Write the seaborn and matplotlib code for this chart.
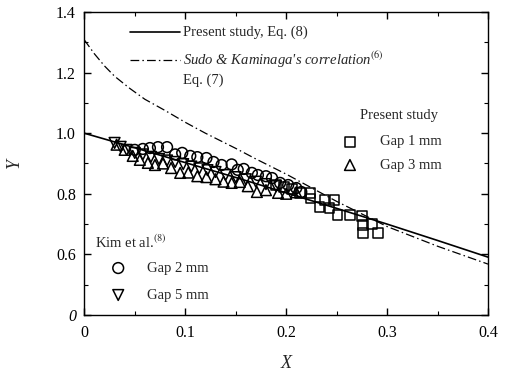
import numpy as np
import pandas as pd
import matplotlib
matplotlib.use("Agg")
import matplotlib.pyplot as plt
from matplotlib.ticker import MultipleLocator, FixedLocator, FixedFormatter
import seaborn as sns

# ---- data ----
eq8_x = [0.0, 0.05, 0.10, 0.15, 0.20, 0.25, 0.30, 0.35, 0.40]
eq8_y = [1.000, 0.952, 0.903, 0.854, 0.803, 0.752, 0.700, 0.646, 0.591]

sudo_x = [0.0, 0.01, 0.02, 0.03, 0.045, 0.06, 0.08, 0.10, 0.12, 0.15, 0.17, 0.20,
          0.25, 0.30, 0.35, 0.40]
sudo_y = [1.308, 1.262, 1.222, 1.188, 1.148, 1.112, 1.075, 1.036, 1.000, 0.950, 0.915, 0.865,
          0.775, 0.692, 0.627, 0.568]

gap1_x = [0.190, 0.198, 0.206, 0.214, 0.224, 0.224, 0.238, 0.248, 0.233, 0.243,
          0.251, 0.263, 0.275, 0.276, 0.285, 0.276, 0.291]
gap1_y = [0.830, 0.822, 0.815, 0.802, 0.802, 0.785, 0.780, 0.780, 0.756, 0.753,
          0.730, 0.730, 0.726, 0.697, 0.700, 0.671, 0.671]

gap3_x = [0.032, 0.040, 0.048, 0.055, 0.063, 0.070, 0.078, 0.086, 0.095, 0.103, 0.112,
          0.121, 0.130, 0.138, 0.146, 0.154, 0.162, 0.171, 0.180, 0.192, 0.200, 0.210]
gap3_y = [0.962, 0.945, 0.925, 0.912, 0.902, 0.895, 0.900, 0.885, 0.869, 0.870, 0.858,
          0.855, 0.848, 0.840, 0.836, 0.839, 0.825, 0.806, 0.812, 0.803, 0.800, 0.805]

gap2_x = [0.050, 0.058, 0.065, 0.073, 0.082, 0.090, 0.097, 0.105, 0.112, 0.121, 0.128, 0.136,
          0.146, 0.152, 0.158, 0.166, 0.172, 0.180, 0.186, 0.194, 0.202, 0.210, 0.215]
gap2_y = [0.945, 0.948, 0.951, 0.954, 0.954, 0.930, 0.935, 0.925, 0.921, 0.918, 0.905, 0.895,
          0.897, 0.879, 0.882, 0.869, 0.862, 0.858, 0.852, 0.836, 0.829, 0.819, 0.806]

gap5_x = [0.030, 0.036, 0.042, 0.050, 0.058, 0.066, 0.074, 0.082, 0.090, 0.098,
          0.106, 0.114, 0.122, 0.130, 0.140, 0.150, 0.160, 0.170, 0.180, 0.190]
gap5_y = [0.968, 0.955, 0.945, 0.935, 0.930, 0.922, 0.915, 0.910, 0.905, 0.898,
          0.890, 0.884, 0.878, 0.872, 0.862, 0.855, 0.848, 0.840, 0.832, 0.825]

y_ticks = [0.4, 0.6, 0.8, 1.0, 1.2, 1.4]
y_tick_labels = ["0", "0.6", "0.8", "1.0", "1.2", "1.4"]
x_ticks = [0.0, 0.1, 0.2, 0.3, 0.4]
x_tick_labels = ["0", "0.1", "0.2", "0.3", "0.4"]

# ---- style ----
sns.set_theme(style="ticks")
plt.rcParams["font.family"] = ["Liberation Serif", "DejaVu Serif"]
plt.rcParams["mathtext.fontset"] = "stix"
plt.rcParams["axes.linewidth"] = 1.0

fig = plt.figure(figsize=(5.06, 3.76), dpi=100)
ax = fig.add_axes([84.3 / 506, 1 - 315 / 376, 403.7 / 506, 303 / 376])

dashdot = (0, (7, 2.5, 1.2, 2.5))
sns.lineplot(x=eq8_x, y=eq8_y, ax=ax, color="black", lw=1.2, sort=False, estimator=None)
sns.lineplot(x=sudo_x, y=sudo_y, ax=ax, color="black", lw=0.9, sort=False, estimator=None,
             linestyle=dashdot)

mk = dict(ax=ax, facecolor="none", edgecolor="black", linewidth=1.1, legend=False)
sns.scatterplot(x=gap2_x, y=gap2_y, marker="o", s=60, **mk)
sns.scatterplot(x=gap5_x, y=gap5_y, marker="v", s=60, **mk)
sns.scatterplot(x=gap3_x, y=gap3_y, marker="^", s=60, **mk)
sns.scatterplot(x=gap1_x, y=gap1_y, marker="s", s=48, **mk)

ax.set_xlim(0, 0.4)
ax.set_ylim(0.4, 1.4)
ax.xaxis.set_major_locator(FixedLocator(x_ticks))
ax.xaxis.set_major_formatter(FixedFormatter(x_tick_labels))
ax.xaxis.set_minor_locator(MultipleLocator(0.05))
ax.yaxis.set_major_locator(FixedLocator(y_ticks))
ax.yaxis.set_major_formatter(FixedFormatter(y_tick_labels))
ax.yaxis.set_minor_locator(MultipleLocator(0.1))
ax.tick_params(which="both", direction="in", top=True, right=True, color="black",
               labelsize=11.5, labelcolor="black")
ax.tick_params(which="major", length=5, width=1.0)
ax.tick_params(which="minor", length=3, width=0.8)
ax.tick_params(axis="x", pad=7)
ax.tick_params(axis="y", pad=6)
ax.get_yticklabels()[0].set_fontstyle("italic")
for s in ax.spines.values():
    s.set_color("black")

ax.set_xlabel("X", fontsize=13, fontstyle="italic", labelpad=10)
ax.set_ylabel("Y", fontsize=13, fontstyle="italic", labelpad=24)
ax.set_facecolor("white")

# ---- legends as text ----
tx = ax.transAxes
fs = 10.5
ax.plot([0.113, 0.237], [0.934, 0.934], transform=tx, color="black", lw=1.2)
ax.text(0.245, 0.934, "Present study, Eq. (8)", transform=tx, fontsize=fs, va="center")
ax.plot([0.113, 0.237], [0.842, 0.842], transform=tx, color="black", lw=0.9,
        linestyle=dashdot)
ax.text(0.245, 0.842, "Sudo & Kaminaga's correlation$^{(6)}$", transform=tx, fontsize=fs,
        va="center", fontstyle="italic")
ax.text(0.245, 0.776, "Eq. (7)", transform=tx, fontsize=fs, va="center")

ax.text(0.683, 0.66, "Present study", transform=tx, fontsize=fs, va="center")
ax.scatter([0.658], [0.571], transform=tx, marker="s", s=48, facecolor="none",
           edgecolor="black", linewidth=1.1)
ax.text(0.733, 0.571, "Gap 1 mm", transform=tx, fontsize=fs, va="center")
ax.scatter([0.658], [0.495], transform=tx, marker="^", s=60, facecolor="none",
           edgecolor="black", linewidth=1.1)
ax.text(0.733, 0.495, "Gap 3 mm", transform=tx, fontsize=fs, va="center")

ax.text(0.027, 0.241, "Kim et al.$^{(8)}$", transform=tx, fontsize=fs, va="center")
ax.scatter([0.084], [0.155], transform=tx, marker="o", s=60, facecolor="none",
           edgecolor="black", linewidth=1.1)
ax.text(0.155, 0.155, "Gap 2 mm", transform=tx, fontsize=fs, va="center")
ax.scatter([0.084], [0.066], transform=tx, marker="v", s=60, facecolor="none",
           edgecolor="black", linewidth=1.1)
ax.text(0.155, 0.066, "Gap 5 mm", transform=tx, fontsize=fs, va="center")

fig.savefig("out.png", dpi=100, facecolor="white")
